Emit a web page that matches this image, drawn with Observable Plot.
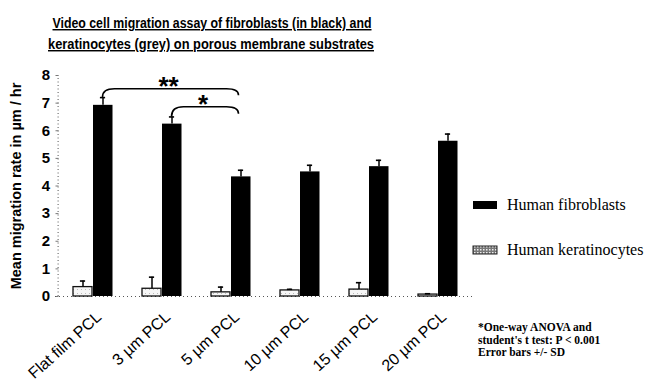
<!DOCTYPE html>
<html>
<head>
<meta charset="utf-8">
<script src="https://cdn.jsdelivr.net/npm/d3@7"></script>
<script src="https://cdn.jsdelivr.net/npm/@observablehq/plot@0.6"></script>
<style>
  html, body { margin: 0; padding: 0; background: #fff; }
  svg { display: block; }
</style>
</head>
<body>
<div id="chart"></div>
<script>
// ---- data ----
const categories = ["Flat film PCL", "3 µm PCL", "5 µm PCL", "10 µm PCL", "15 µm PCL", "20 µm PCL"];
const fibroblasts = [6.92, 6.24, 4.33, 4.51, 4.70, 5.62];
const fibroblastsErrTop = [7.20, 6.50, 4.57, 4.75, 4.93, 5.88];
const keratinocytes = [0.34, 0.28, 0.15, 0.22, 0.25, 0.07];
const keratinocytesErrTop = [0.56, 0.70, 0.34, 0.26, 0.50, 0.10];
const yTicks = [0, 1, 2, 3, 4, 5, 6, 7, 8];
const seriesNames = ["Human fibroblasts", "Human keratinocytes"];
const titleLines = [
  "Video cell migration assay of fibroblasts (in black) and",
  "keratinocytes (grey) on porous membrane substrates"
];
const yLabel = "Mean migration rate in µm / hr";
const footnote = ["*One-way ANOVA and", "student's t test: P < 0.001", "Error bars +/- SD"];
// significance brackets
const sigFrom = ["Flat film PCL", "3 µm PCL"];
const sigTo = ["5 µm PCL", "5 µm PCL"];
const sigStart = [7.20, 6.50];
const sigTop = [7.50, 6.85];
const sigEnd = [7.27, 6.60];
const sigLabel = ["**", "*"];

const fib = categories.map((c, i) => ({cat: c, v: fibroblasts[i], e: fibroblastsErrTop[i]}));
const ker = categories.map((c, i) => ({cat: c, v: keratinocytes[i], e: keratinocytesErrTop[i]}));
const sig = sigFrom.map((f, i) => ({from: f, to: sigTo[i], y0: sigStart[i], yt: sigTop[i], y1: sigEnd[i], label: sigLabel[i]}));

const SANS = "'Liberation Sans', Arial, sans-serif";
const SERIF = "'Liberation Serif', 'Times New Roman', serif";

const bracketMark = (index, scales) => {
  const g = d3.create("svg:g");
  const x = scales.x, y = scales.y, bw = x.bandwidth();
  for (const d of sig) {
    const x0 = x(d.from) + bw / 2 + 10;
    const x1 = x(d.to) + bw / 2 + 8;
    const ya = y(d.y0), yt = y(d.yt), yb = y(d.y1);
    const r = 12;
    g.append("path")
      .attr("d", `M${x0},${ya} Q${x0},${yt} ${x0 + r},${yt} L${x1 - r},${yt} Q${x1},${yt} ${x1},${yb}`)
      .attr("fill", "none").attr("stroke", "#000").attr("stroke-width", 1.6);
    g.append("text")
      .attr("x", (x0 + x1) / 2 - 2).attr("y", yt + 6)
      .attr("text-anchor", "middle")
      .attr("font-family", SANS).attr("font-weight", "bold").attr("font-size", 26)
      .text(d.label);
  }
  return g.node();
};

const chart = Plot.plot({
  width: 659,
  height: 388,
  marginLeft: 55,
  marginRight: 185,
  marginTop: 75,
  marginBottom: 92,
  style: {background: "#fff", color: "#000", fontFamily: SANS},
  x: {domain: categories, padding: 0, axis: null},
  y: {domain: [0, 8], axis: null},
  marks: [
    // dotted y axis line
    Plot.ruleX([0], {x: () => categories[0], dx: -34.9, y1: 0, y2: 8, stroke: "#555", strokeDasharray: "1,2.5", strokeWidth: 1}),
    // y tick labels
    Plot.text(yTicks, {x: () => categories[0], y: d => d, dx: -43, text: d => String(d), textAnchor: "end",
      fontWeight: "bold", fontSize: 15, fontFamily: SANS}),
    Plot.tickY(yTicks, {x: () => categories[0], y: d => d, dx: -35.5, insetLeft: 33, insetRight: 33, stroke: "#777", strokeWidth: 1}),
    // dotted baseline
    Plot.ruleY([0], {stroke: "#555", strokeDasharray: "1,3", strokeWidth: 1}),
    // bars
    Plot.barY(ker, {x: "cat", y: "v", insetLeft: 15, insetRight: 35, fill: "url(#kerPat)", stroke: "#111", strokeWidth: 1.3}),
    Plot.barY(fib, {x: "cat", y: "v", insetLeft: 35, insetRight: 14.5, fill: "#000"}),
    // error bars
    Plot.ruleX(ker, {x: "cat", y1: "v", y2: "e", dx: -10, stroke: "#000", strokeWidth: 1.5}),
    Plot.tickY(ker, {x: "cat", y: "e", dx: -10, insetLeft: 31.9, insetRight: 31.9, stroke: "#000", strokeWidth: 1.6}),
    Plot.ruleX(fib, {x: "cat", y1: "v", y2: "e", dx: 10, stroke: "#000", strokeWidth: 1.5}),
    Plot.tickY(fib, {x: "cat", y: "e", dx: 10, insetLeft: 31.9, insetRight: 31.9, stroke: "#000", strokeWidth: 1.6}),
    // x labels
    Plot.text(categories, {x: d => d, y: () => 0, dx: 6, dy: 18, text: d => d, rotate: -42, textAnchor: "end",
      fontSize: 16, fontFamily: SANS}),
    // significance brackets
    bracketMark
  ]
});

const svg = d3.select(chart);
// pattern for keratinocytes
const defs = svg.insert("defs", ":first-child");
const pat = defs.append("pattern").attr("id", "kerPat").attr("patternUnits", "userSpaceOnUse")
  .attr("width", 4).attr("height", 4);
pat.append("rect").attr("width", 4).attr("height", 4).attr("fill", "#f6f6f6");
pat.append("rect").attr("x", 1).attr("y", 1).attr("width", 1).attr("height", 1).attr("fill", "#bbb");
const pat2 = defs.append("pattern").attr("id", "kerLeg").attr("patternUnits", "userSpaceOnUse")
  .attr("width", 3).attr("height", 3);
pat2.append("rect").attr("width", 3).attr("height", 3).attr("fill", "#777");
pat2.append("rect").attr("width", 1.5).attr("height", 1.5).attr("fill", "#eee");

// title
const titleW = [319, 326];
const titleX = [212, 211];
const titleY = [28, 49];
titleLines.forEach((t, i) => {
  svg.append("text")
    .attr("x", titleX[i]).attr("y", titleY[i])
    .attr("text-anchor", "middle")
    .attr("font-family", SANS).attr("font-weight", "bold").attr("font-size", 14.5)
    .attr("text-decoration", "underline")
    .attr("textLength", titleW[i]).attr("lengthAdjust", "spacingAndGlyphs")
    .text(t);
});

// y label
svg.append("text")
  .attr("transform", "translate(21,186) rotate(-90)")
  .attr("text-anchor", "middle")
  .attr("font-family", SANS).attr("font-weight", "bold").attr("font-size", 14.5)
  .text(yLabel);

// legend
const legY = [205, 250];
const legFill = ["#000", "url(#kerLeg)"];
seriesNames.forEach((n, i) => {
  svg.append("rect").attr("x", 473).attr("y", legY[i] - 4).attr("width", 24).attr("height", 8)
    .attr("fill", legFill[i]).attr("stroke", i ? "#222" : "none");
  svg.append("text").attr("x", 507).attr("y", legY[i] + 5)
    .attr("text-anchor", "start")
    .attr("font-family", SERIF).attr("font-size", 16)
    .text(n);
});

// footnote
footnote.forEach((t, i) => {
  svg.append("text").attr("x", 478).attr("y", 331 + i * 12.5)
    .attr("text-anchor", "start")
    .attr("font-family", SERIF).attr("font-weight", "bold").attr("font-size", 11.5)
    .text(t);
});

document.getElementById("chart").appendChild(chart);
</script>
</body>
</html>
